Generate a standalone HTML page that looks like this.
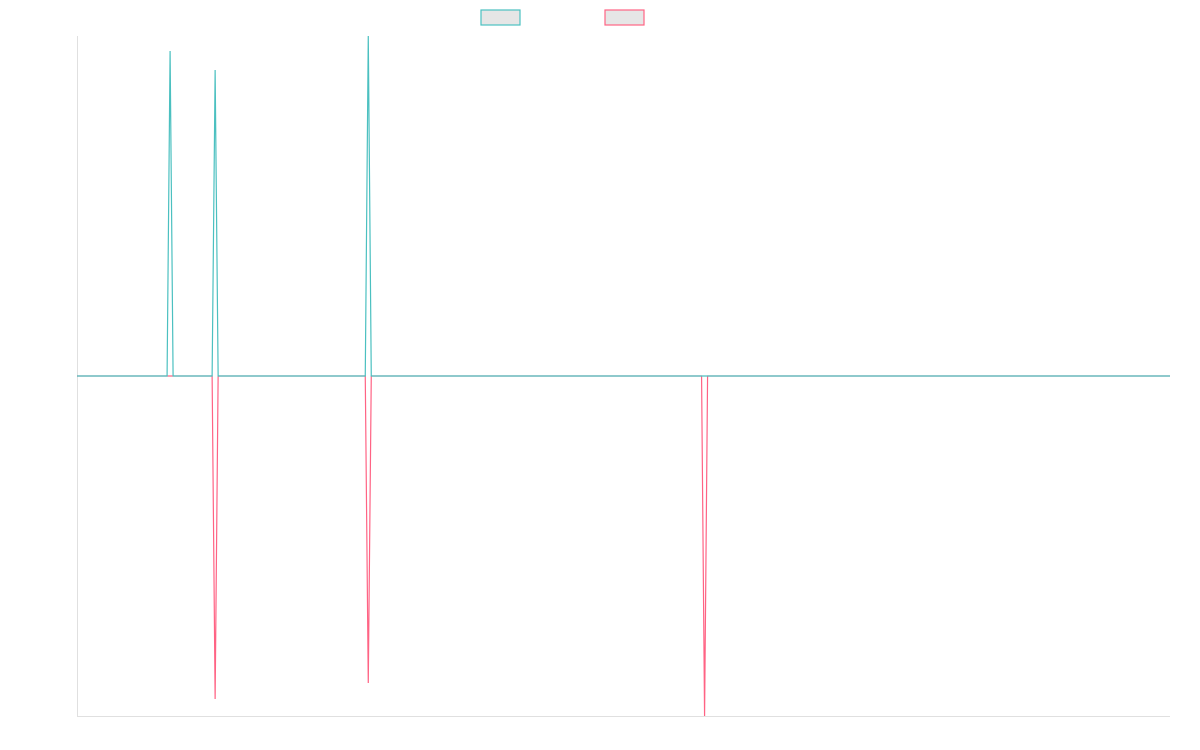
<!DOCTYPE html>
<html><head><meta charset="utf-8"><style>
html,body{margin:0;padding:0;background:#fff;width:1200px;height:750px;overflow:hidden;font-family:"Liberation Sans",sans-serif}
</style></head><body>
<svg id="chart" width="1200" height="750" xmlns="http://www.w3.org/2000/svg">
<rect x="481" y="10" width="39" height="15" fill="#e6e6e6" stroke="#4bc0c0" stroke-width="1.2"/>
<rect x="605" y="10" width="39" height="15" fill="#e6e6e6" stroke="#ff6384" stroke-width="1.2"/>
<line x1="77.5" y1="36" x2="77.5" y2="716" stroke="#e0e0e0"/>
<line x1="77" y1="716.5" x2="1170" y2="716.5" stroke="#e0e0e0"/>
<g id="plot"></g>
</svg>
<script>
const pointCount = 365;
const seriesAIdx = [31, 46, 97];
const seriesAVals = [95.6, 90, 100];
const seriesBIdx = [46, 97, 209];
const seriesBVals = [-95, -90.3, -100];
const yMax = 100, yMin = -100;
const X0 = 77, X1 = 1170, Y0 = 36, Y1 = 716;
function xs(i){return X0 + i*(X1-X0)/(pointCount-1);}
function ys(v){return Y0 + (yMax-v)/(yMax-yMin)*(Y1-Y0);}
function build(idx, vals){
  const d = new Array(pointCount).fill(0);
  idx.forEach((k,j)=>{d[k]=vals[j];});
  return d;
}
const plot = document.getElementById('plot');
function draw(data, color, name){
  const p = document.createElementNS('http://www.w3.org/2000/svg','path');
  
  
  p.setAttribute('d', data.map((v,i)=>(i?'L':'M')+xs(i).toFixed(2)+' '+ys(v).toFixed(2)).join(' '));
  p.setAttribute('fill','none');
  p.setAttribute('stroke',color);
  p.setAttribute('stroke-width','1.2');
  plot.appendChild(p);
}
draw(build(seriesBIdx, seriesBVals), '#ff6384', 'series-b-line');
draw(build(seriesAIdx, seriesAVals), '#4bc0c0', 'series-a-line');
</script>
</body></html>
